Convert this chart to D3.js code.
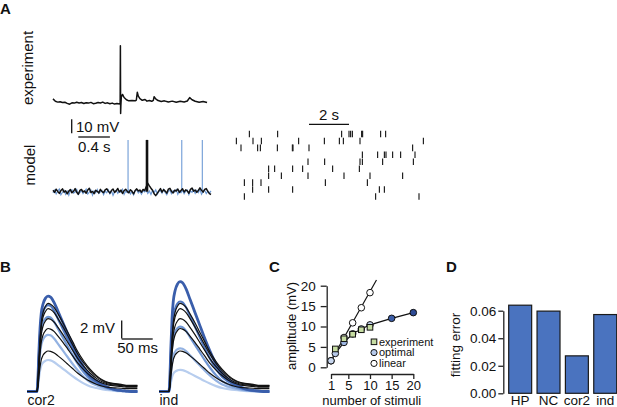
<!DOCTYPE html>
<html>
<head>
<meta charset="utf-8">
<script src="https://d3js.org/d3.v7.min.js"></script>
<style>
  body { margin: 0; background: #fff; }
  text { font-family: "Liberation Sans", Arial, sans-serif; fill: #111; }
</style>
</head>
<body>
<div id="my_dataviz"></div>
<script>
// ---------- panel A: recorded trace (s, mV from rest) ----------
const expTime = [0, 0.03, 0.06, 0.09, 0.12, 0.15, 0.18, 0.21, 0.24, 0.27,
  0.3, 0.33, 0.36, 0.39, 0.42, 0.45, 0.48, 0.51, 0.54, 0.57,
  0.6, 0.63, 0.66, 0.69, 0.72, 0.75, 0.78, 0.81, 0.84, 0.85,
  0.853, 0.856, 0.859, 0.865, 0.88, 0.9, 0.93, 0.96, 1.0, 1.04,
  1.055, 1.067, 1.08, 1.1, 1.13, 1.165, 1.19, 1.22, 1.25, 1.27,
  1.28, 1.3, 1.33, 1.37, 1.41, 1.46, 1.51, 1.56, 1.61, 1.66,
  1.7, 1.73, 1.76, 1.8, 1.85, 1.9, 1.95];
const expVolt = [2.0, 0.3, -0.3, 0.0, -0.6, -0.4, -1.2, -1.8, -0.8, -1.0,
  -0.4, -0.9, -0.6, -1.3, -0.7, -1.0, -0.5, -1.4, -1.1, -0.6,
  -0.9, -0.3, -1.2, -0.8, -1.5, -1.0, -1.7, -1.3, -1.6, -1.2,
  40, -8.5, -3.0, 3.5, 5.2, 3.0, 1.4, 0.6, 0.9, 0.6,
  1.2, 6.7, 4.0, 2.2, 1.0, 1.6, 0.4, 0.9, 0.3, 1.0,
  3.6, 2.0, 0.8, 0.2, 0.6, -0.2, 0.4, -0.4, 0.3, -0.2,
  0.5, 2.9, 1.4, 0.3, -0.4, 0.2, -0.6];

// model traces, one value every 20 ms
const modelStep = 0.02;
const modelBlack = [1.0, -0.5, 1.8, 0.2, -1.2, 0.8, 2.0, -0.3, 0.6, -1.5,
  0.4, 1.5, -0.8, 0.3, 2.2, -0.4, -1.8, 0.9, 1.6, -0.2,
  0.5, -1.1, 1.2, 2.4, -0.6, 0.2, -1.4, 1.0, 0.3, -0.9,
  1.7, 0.1, -0.7, 1.3, 2.1, 0.4, -1.0, 0.8, 1.9, -0.5,
  0.6, 2.3, -0.2, 1.1, -1.3, 0.7, 1.8, 0.2, -0.8, 1.4,
  0.3, -1.6, 0.9, 2.0, 0.5, 1.2, -0.4, 1.6, 0.8, 3.5,
  6.0, 4.2, 2.5, 1.0, -1.5, -2.8, -1.2, 0.6, 2.2, -0.3,
  1.5, 0.4, -1.0, 1.8, 2.4, 0.2, -0.9, 1.1, 0.5, 1.9,
  -0.6, 0.8, 2.1, -0.2, 1.3, 0.6, -1.1, 1.7, 2.6, 0.3,
  1.2, -0.5, 0.9, 2.8, 1.0, -0.3, 1.6, 2.2, 0.2, -1.4,
  -2.0];
const modelBlue = [-0.8, 1.2, -1.6, 0.5, 1.9, -2.2, -0.4, 1.0, -1.8, 0.3,
  -2.5, 0.8, 1.4, -1.0, -0.2, 1.6, -2.0, -0.6, 0.9, -1.4,
  0.2, 1.8, -1.7, -0.3, 1.1, -2.4, 0.6, -0.9, 1.5, -1.2,
  -0.1, 0.9, -2.1, 0.4, -0.8, 1.3, -1.5, 0.7, -2.6, 0.0,
  1.0, -1.1, 0.5, -0.4, 1.7, -1.9, 0.3, -0.7, 1.2, -1.6,
  0.1, -2.3, 0.8, 1.4, -0.9, 0.4, -1.8, 0.6, -0.2, 1.1,
  -1.3, 0.5, -2.0, 0.9, -0.5, 1.3, -1.7, 0.2, 0.8, -1.0,
  1.6, -0.6, -2.2, 0.4, 1.0, -1.4, 0.7, -0.3, 1.5, -1.9,
  0.6, -0.8, 1.1, -1.5, 0.3, 1.2, -2.1, 0.5, -0.4, 1.4,
  -1.2, 0.9, -0.6, 1.7, -1.8, 0.2, 1.0, -1.3, 0.4, -0.9,
  0.5];
const blackSpikes = [1.19];
const blueSpikes = [0.95, 1.63, 1.89];
const spikePeak = 37;

// raster of spike times (s), one list per row
const rasterRows = [
  [0.72, 2.13, 5.33, 5.70, 5.78, 5.87, 6.33, 6.38, 7.28, 7.53],
  [0.07, 0.90, 1.32, 3.18, 4.47, 5.22, 5.42, 6.25, 9.42],
  [0.30, 1.13, 1.27, 2.12, 2.87, 2.90, 3.70, 8.88],
  [6.37, 7.13, 7.47, 7.55, 7.88, 8.28, 9.00],
  [3.65, 4.48, 6.25, 6.37, 7.38, 8.92],
  [1.68, 1.98, 2.88, 3.38, 4.88, 6.22],
  [1.68, 2.32, 3.65, 5.45, 6.75, 8.38],
  [0.47, 0.88, 1.30, 4.52, 6.62],
  [0.88, 1.68, 2.88, 7.22, 7.47],
  [0.47, 7.03, 9.20]
];

// ---------- panel B: PSP waveforms (ms, normalised) ----------
const waveTime = [0, 16, 17.5, 19, 21, 23, 26, 30, 34, 38, 44, 50, 58, 66, 74,
  82, 92, 102, 112, 122, 132, 142, 152, 160, 168, 178];
const modelShape = [0, 0, 0.12, 0.38, 0.66, 0.82, 0.92, 0.98, 1.0, 0.99, 0.93,
  0.84, 0.72, 0.6, 0.48, 0.37, 0.25, 0.16, 0.11, 0.07, 0.04, 0.02, 0.01, 0.005, 0, 0];
const expShape = [0, 0, 0.1, 0.33, 0.6, 0.78, 0.9, 0.97, 1.0, 0.99, 0.95,
  0.88, 0.78, 0.67, 0.56, 0.45, 0.34, 0.25, 0.18, 0.13, 0.1, 0.09, 0.08, 0.07, 0.07, 0.07];
const cor2Amp = [3.5, 6.3, 8.3, 9.6, 10.6];
const indAmp = [2.4, 4.8, 7.2, 10.0, 12.2];

// ---------- panel C: amplitude vs number of stimuli ----------
const expN = [2, 4, 6, 8, 10];
const expAmp = [4.5, 7.0, 8.1, 9.2, 9.8];
const optN = [1, 2, 4, 6, 8, 10, 15, 20];
const optAmp = [1.6, 3.4, 6.1, 8.2, 9.4, 10.4, 12.0, 13.4];
const linN = [1, 4, 6, 8, 10];
const linAmp = [1.6, 7.3, 10.9, 14.6, 18.3];
const linLineN = [1, 11.5];
const linLineAmp = [1.6, 21.4];
const xTicksC = [1, 5, 10, 15, 20];
const yTicksC = [0, 5, 10, 15, 20];

// ---------- panel D: fitting error ----------
const models = ["HP", "NC", "cor2", "ind"];
const fitErr = [0.064, 0.0597, 0.0272, 0.0572];
const yTicksD = [0, 0.02, 0.04, 0.06];

// colours
const blueShades = ["#b7cdee", "#93b2e2", "#7096d3", "#4f77c0", "#3a5eab"];
const optFill = ["#c8d7ef", "#b6c9ea", "#9fb8e3", "#9fb8e3", "#a9c0e6", "#c0d0ec", "#3c5ea8", "#2e4b95"];

const W = 617, H = 407;
const svg = d3
  .select("#my_dataviz")
  .append("svg")
  .attr("width", W)
  .attr("height", H);

function label(x, y, txt, opts) {
  opts = opts || {};
  const t = svg
    .append("text")
    .attr("x", x)
    .attr("y", y)
    .attr("font-size", opts.size || 14)
    .attr("text-anchor", opts.anchor || "start")
    .attr("font-weight", opts.bold ? "bold" : null)
    .text(txt);
  if (opts.rotate) t.attr("transform", `rotate(-90,${x},${y})`);
  return t;
}

function styleAxis(g, size) {
  g.selectAll("text")
    .attr("font-family", '"Liberation Sans", Arial, sans-serif')
    .attr("font-size", size)
    .attr("fill", "#111");
  g.selectAll("path, line").attr("stroke", "#222").attr("stroke-width", 1.3);
}

// panel letters
label(0, 14, "A", { bold: true, size: 15 });
label(0, 272, "B", { bold: true, size: 15 });
label(269, 272, "C", { bold: true, size: 15 });
label(446, 272, "D", { bold: true, size: 15 });

// ===== A: experiment trace =====
const xExp = d3.scaleLinear().domain([0, 2]).range([53, 211]);
const yExp = d3.scaleLinear().domain([-10, 40]).range([115.7, 45.7]);
const line = d3.line();

svg
  .append("path")
  .attr("d", line(expTime.map((t, i) => [xExp(t), yExp(expVolt[i])])))
  .attr("fill", "none")
  .attr("stroke", "#111")
  .attr("stroke-width", 1.5)
  .attr("stroke-linejoin", "round");

label(33, 68, "experiment", { rotate: true, anchor: "middle", size: 15 });
label(34.5, 165, "model", { rotate: true, anchor: "middle", size: 15 });

// scale bars: 10 mV and 0.4 s
svg
  .append("line")
  .attr("x1", 71.7).attr("x2", 71.7)
  .attr("y1", 133.3).attr("y2", 133.3 - (yExp(0) - yExp(10)))
  .attr("stroke", "#111").attr("stroke-width", 1.3);
label(76, 131.5, "10 mV", { size: 15 });
svg
  .append("line")
  .attr("x1", 78.3).attr("x2", 78.3 + xExp(0.4) - xExp(0))
  .attr("y1", 137).attr("y2", 137)
  .attr("stroke", "#111").attr("stroke-width", 1.3);
label(94.2, 151.5, "0.4 s", { size: 15, anchor: "middle" });

// ===== A: model traces =====
const xMod = d3.scaleLinear().domain([0, 2]).range([53, 211]);
const yMod = d3.scaleLinear().domain([-10, 40]).range([205.7, 135.7]);

svg
  .append("path")
  .attr("d", line(modelBlue.map((v, i) => [xMod(i * modelStep), yMod(v)])))
  .attr("fill", "none")
  .attr("stroke", "#6f9bd6")
  .attr("stroke-width", 1.2);
svg
  .selectAll(".bspike")
  .data(blueSpikes)
  .join("line")
  .attr("x1", d => xMod(d)).attr("x2", d => xMod(d))
  .attr("y1", yMod(0)).attr("y2", yMod(spikePeak))
  .attr("stroke", "#6f9bd6")
  .attr("stroke-width", 1.1);
svg
  .append("path")
  .attr("d", line(modelBlack.map((v, i) => [xMod(i * modelStep), yMod(v)])))
  .attr("fill", "none")
  .attr("stroke", "#111")
  .attr("stroke-width", 1.5)
  .attr("stroke-linejoin", "round");
svg
  .selectAll(".kspike")
  .data(blackSpikes)
  .join("line")
  .attr("x1", d => xMod(d)).attr("x2", d => xMod(d))
  .attr("y1", yMod(0)).attr("y2", yMod(spikePeak))
  .attr("stroke", "#111")
  .attr("stroke-width", 2.6);

// ===== A: raster =====
const xRas = d3.scaleLinear().domain([0, 9.5]).range([235, 425]);
const yRas = d3.scaleBand().domain(d3.range(rasterRows.length)).range([130.5, 200]);

rasterRows.forEach(function (row, r) {
  svg
    .append("g")
    .selectAll("line")
    .data(row)
    .join("line")
    .attr("x1", d => xRas(d)).attr("x2", d => xRas(d))
    .attr("y1", yRas(r) + 0.2).attr("y2", yRas(r) + yRas.bandwidth() - 0.2)
    .attr("stroke", "#222")
    .attr("stroke-width", 1.2);
});
svg
  .append("line")
  .attr("x1", xRas(3.7)).attr("x2", xRas(5.7))
  .attr("y1", 124.3).attr("y2", 124.3)
  .attr("stroke", "#111").attr("stroke-width", 1.3);
label(xRas(4.7), 120, "2 s", { size: 15, anchor: "middle" });

// ===== B: PSP traces =====
const yB = d3.scaleLinear().domain([0, 12]).range([391.5, 283.5]);
const msPx = 0.62;
const curveB = d3.line().curve(d3.curveMonotoneX);

function drawPSPs(x0, blueAmps, name) {
  const xB = d3.scaleLinear().domain([0, 178]).range([x0, x0 + 178 * msPx]);
  blueAmps.forEach(function (a, k) {
    svg
      .append("path")
      .attr("d", curveB(waveTime.map((t, i) => [xB(t), yB(a * modelShape[i])])))
      .attr("fill", "none")
      .attr("stroke", blueShades[k])
      .attr("stroke-width", k === blueAmps.length - 1 ? 2.8 : 2.2);
  });
  expAmp.forEach(function (a) {
    svg
      .append("path")
      .attr("d", curveB(waveTime.map((t, i) => [xB(t), yB(a * expShape[i])])))
      .attr("fill", "none")
      .attr("stroke", "#111")
      .attr("stroke-width", 1.2);
  });
  label(x0 + 0.5, 405, name, { size: 14 });
  return xB;
}
const xCor = drawPSPs(27, cor2Amp, "cor2");
drawPSPs(159, indAmp, "ind");

// scale bars: 2 mV and 50 ms
svg
  .append("line")
  .attr("x1", 121.7).attr("x2", 121.7)
  .attr("y1", 338.5).attr("y2", 338.5 - (yB(0) - yB(2)))
  .attr("stroke", "#111").attr("stroke-width", 1.3);
label(115, 333.3, "2 mV", { size: 15, anchor: "end" });
svg
  .append("line")
  .attr("x1", 121.7).attr("x2", 121.7 + xCor(50) - xCor(0))
  .attr("y1", 339).attr("y2", 339)
  .attr("stroke", "#111").attr("stroke-width", 1.3);
label(137.7, 353.3, "50 ms", { size: 15, anchor: "middle" });

// ===== C: amplitude vs stimuli =====
const xC = d3.scaleLinear().domain([1, 20]).range([331, 413.3]);
const yC = d3.scaleLinear().domain([0, 20]).range([367.3, 285.7]);

const gyC = svg
  .append("g")
  .attr("transform", "translate(326.7,0)")
  .call(d3.axisLeft(yC).tickValues(yTicksC).tickSize(6).tickSizeOuter(0).tickPadding(5));
styleAxis(gyC, 13.5);
const gxC = svg
  .append("g")
  .attr("transform", "translate(0,374)")
  .call(d3.axisBottom(xC).tickValues(xTicksC).tickSize(5).tickSizeOuter(0).tickPadding(2));
styleAxis(gxC, 13);

label(296, 326, "amplitude (mV)", { rotate: true, anchor: "middle", size: 13 });
label(371.7, 405.3, "number of stimuli", { anchor: "middle", size: 13 });

// linear prediction line and optimal fit line
svg
  .append("path")
  .attr("d", line(linLineN.map((n, i) => [xC(n), yC(linLineAmp[i])])))
  .attr("fill", "none").attr("stroke", "#111").attr("stroke-width", 1.2);
svg
  .append("path")
  .attr("d", line(optN.map((n, i) => [xC(n), yC(optAmp[i])])))
  .attr("fill", "none").attr("stroke", "#111").attr("stroke-width", 1.2);

svg
  .selectAll(".lin")
  .data(linN)
  .join("circle")
  .attr("cx", d => xC(d))
  .attr("cy", (d, i) => yC(linAmp[i]))
  .attr("r", 3.3)
  .attr("fill", "#fff").attr("stroke", "#111").attr("stroke-width", 1);
svg
  .selectAll(".opt")
  .data(optN)
  .join("circle")
  .attr("cx", d => xC(d))
  .attr("cy", (d, i) => yC(optAmp[i]))
  .attr("r", 3.3)
  .attr("fill", (d, i) => optFill[i]).attr("stroke", "#111").attr("stroke-width", 1);
svg
  .selectAll(".exq")
  .data(expN)
  .join("rect")
  .attr("x", d => xC(d) - 2.8)
  .attr("y", (d, i) => yC(expAmp[i]) - 2.8)
  .attr("width", 5.6).attr("height", 5.6)
  .attr("fill", "#c6dca2").attr("stroke", "#111").attr("stroke-width", 1);

// legend
const legY = [341.8, 352.6, 363.4];
svg.append("rect").attr("x", 371.2).attr("y", legY[0] - 2.8).attr("width", 5.6).attr("height", 5.6)
  .attr("fill", "#c6dca2").attr("stroke", "#111").attr("stroke-width", 1);
svg.append("circle").attr("cx", 374).attr("cy", legY[1]).attr("r", 3.1)
  .attr("fill", "#b6c9ea").attr("stroke", "#111").attr("stroke-width", 1);
svg.append("circle").attr("cx", 374).attr("cy", legY[2]).attr("r", 3.1)
  .attr("fill", "#fff").attr("stroke", "#111").attr("stroke-width", 1);
["experiment", "optimal", "linear"].forEach(function (s, i) {
  label(379, legY[i] + 3.8, s, { size: 11 });
});

// ===== D: fitting error bars =====
const xD = d3.scaleBand().domain(models).range([506, 619.4]).paddingInner(0.19).paddingOuter(0.095);
const yD = d3.scaleLinear().domain([0, 0.06]).range([393.3, 310.7]);

const gyD = svg
  .append("g")
  .attr("transform", "translate(503.3,0)")
  .call(d3.axisLeft(yD).tickValues(yTicksD).tickFormat(d3.format(".2f")).tickSize(5).tickSizeOuter(0).tickPadding(2));
styleAxis(gyD, 13.5);

svg
  .selectAll(".bar")
  .data(models)
  .join("rect")
  .attr("x", d => xD(d))
  .attr("y", (d, i) => yD(fitErr[i]))
  .attr("width", xD.bandwidth())
  .attr("height", (d, i) => yD(0) - yD(fitErr[i]))
  .attr("fill", "#4a73bf")
  .attr("stroke", "#1a1a1a")
  .attr("stroke-width", 1.2);

models.forEach(function (m) {
  label(xD(m) + xD.bandwidth() / 2, 405, m, { anchor: "middle", size: 13.5 });
});
label(459.5, 345, "fitting error", { rotate: true, anchor: "middle", size: 13.5 });
</script>
</body>
</html>
